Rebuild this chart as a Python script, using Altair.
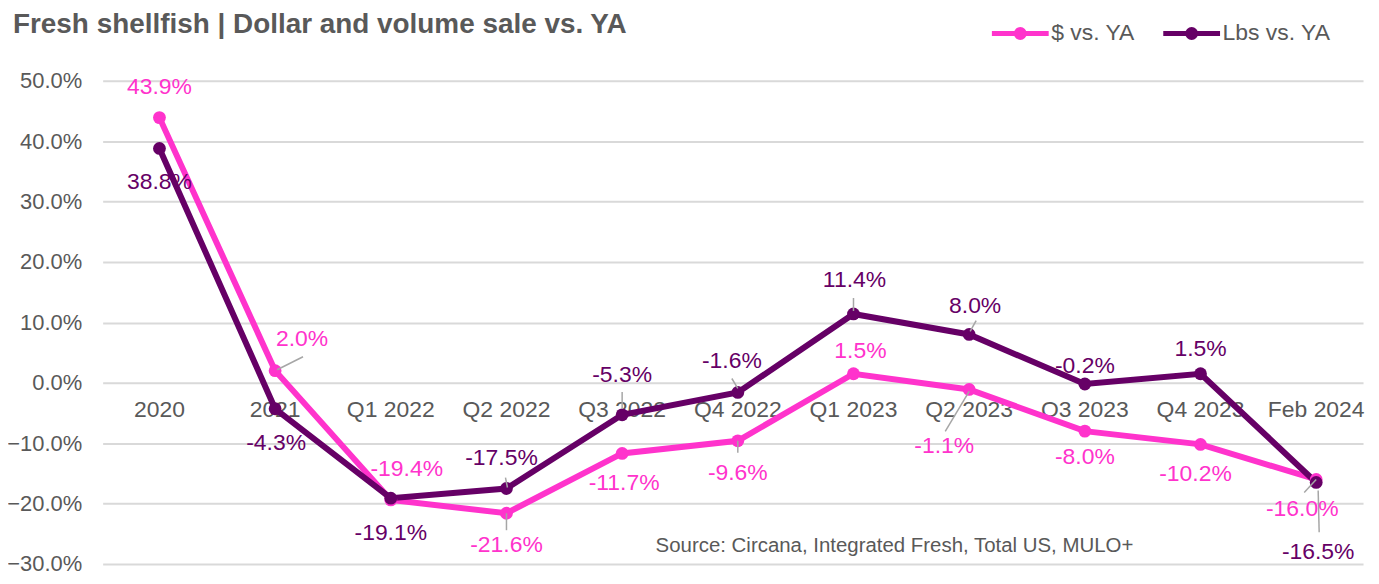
import altair as alt
import pandas as pd

# ---------------- data ----------------
categories = ["2020", "2021", "Q1 2022", "Q2 2022", "Q3 2022", "Q4 2022",
              "Q1 2023", "Q2 2023", "Q3 2023", "Q4 2023", "Feb 2024"]
series_names = ["$ vs. YA", "Lbs vs. YA"]
dollar_vs_ya = [43.9, 2.0, -19.4, -21.6, -11.7, -9.6, 1.5, -1.1, -8.0, -10.2, -16.0]
lbs_vs_ya = [38.8, -4.3, -19.1, -17.5, -5.3, -1.6, 11.4, 8.0, -0.2, 1.5, -16.5]
y_ticks = [-30, -20, -10, 0, 10, 20, 30, 40, 50]

TITLE = "Fresh shellfish | Dollar and volume sale vs. YA"
SOURCE = "Source: Circana, Integrated Fresh, Total US, MULO+"

# data-label placement (pixel offsets dx, dy from each point), like Excel's manual label positions
dollar_label_offset = [(0, -31), (27, -32), (16, -31), (0, 32), (2, 30), (0, 32),
                       (7, -23), (-25, 57), (0, 26), (-5, 30), (-14, 30)]
lbs_label_offset = [(0, 34), (1, 34), (0, 35), (-5, -31), (0, -40), (-6, -32),
                    (1, -34), (6, -29), (0, -18), (0, -25), (2, 70)]
# leader lines: (series, category index, x1, y1, x2, y2) pixel offsets from the point
leader_lines = [
    (0, 1, 2, -1, 28, -14),
    (0, 3, 0, 0, 0, 17),
    (0, 5, 0, 0, 0, 12),
    (0, 7, 0, 2, -24, 42),
    (0, 10, 0, 0, -12, 13),
    (1, 3, -1, -11, 1, -1),
    (1, 4, 0, -23, 0, -6),
    (1, 5, -6, -14, 0, -4),
    (1, 6, 0, -16, 0, -3),
    (1, 7, 1, -3, 7, -14),
    (1, 10, 2, 8, 3, 50),
]

# ---------------- geometry / style ----------------
W, H = 1265, 485
PAD_TOP = 72
PAD_BOTTOM = 11
TOP = 8 + PAD_TOP  # page y of the plot's top edge
X_DOMAIN = [-0.491, 10.405]
Y_DOMAIN = [-30, 50]
PX_X = W / (X_DOMAIN[1] - X_DOMAIN[0])
PX_Y = H / (Y_DOMAIN[1] - Y_DOMAIN[0])
FONT = "Liberation Sans"
GRAY = "#595959"
COLORS = ["#FF33CC", "#660066"]

values_by_series = [dollar_vs_ya, lbs_vs_ya]
offsets_by_series = [dollar_label_offset, lbs_label_offset]

rows = []
for s, name in enumerate(series_names):
    for i, cat in enumerate(categories):
        v = values_by_series[s][i]
        dx, dy = offsets_by_series[s][i]
        rows.append({
            "series": name, "category": cat, "idx": i, "value": v,
            "label": f"{v:.1f}%",
            "lx": i + dx / PX_X, "ly": v - dy / PX_Y,
        })
df = pd.DataFrame(rows)

lead_rows = []
for s, i, x1, y1, x2, y2 in leader_lines:
    v = values_by_series[s][i]
    lead_rows.append({"x1": i + x1 / PX_X, "y1": v - y1 / PX_Y,
                      "x2": i + x2 / PX_X, "y2": v - y2 / PX_Y})
lead_df = pd.DataFrame(lead_rows)

cat_df = pd.DataFrame({"idx": list(range(len(categories))), "category": categories,
                       "zero": [0] * len(categories)})

xscale = alt.Scale(domain=X_DOMAIN, nice=False, zero=False)
yscale = alt.Scale(domain=Y_DOMAIN, nice=False, zero=False)
cscale = alt.Scale(domain=series_names, range=COLORS)

yaxis = alt.Axis(values=y_ticks, labelExpr="format(datum.value, '.1f') + '%'",
                 grid=True, gridColor="#D9D9D9", gridWidth=2, domain=False, ticks=False,
                 labelFontSize=22, labelFont=FONT, labelColor=GRAY, labelPadding=21,
                 title=None)

LEGEND_PATH = ("M-1,0L1,0"
               "M-0.14,0A0.14,0.14,0,1,0,0.14,0A0.14,0.14,0,1,0,-0.14,0"
               "M-0.05,0A0.05,0.05,0,1,0,0.05,0A0.05,0.05,0,1,0,-0.05,0")
legend = alt.Legend(title=None, orient="none", legendX=890, legendY=1.5 - TOP,
                    direction="horizontal", symbolType=LEGEND_PATH, symbolSize=3249,
                    symbolStrokeWidth=5, labelFontSize=23, labelFont=FONT,
                    labelColor=GRAY, labelOffset=0, columnPadding=18, padding=0)

cat_layer = alt.Chart(cat_df).mark_text(
    dy=27, fontSize=23, font=FONT, color=GRAY, baseline="middle", align="center"
).encode(
    x=alt.X("idx:Q", scale=xscale, axis=None),
    y=alt.Y("zero:Q", scale=yscale, axis=yaxis),
    text="category:N",
)

lines = alt.Chart(df).mark_line(strokeWidth=6).encode(
    x=alt.X("idx:Q", scale=xscale, axis=None),
    y=alt.Y("value:Q", scale=yscale, axis=yaxis),
    color=alt.Color("series:N", scale=cscale, legend=legend),
    order="idx:Q",
)

points = alt.Chart(df).mark_circle(size=165, opacity=1).encode(
    x=alt.X("idx:Q", scale=xscale, axis=None),
    y=alt.Y("value:Q", scale=yscale, axis=yaxis),
    color=alt.Color("series:N", scale=cscale, legend=None),
)

leaders = alt.Chart(lead_df).mark_rule(color="#A6A6A6", strokeWidth=1.5).encode(
    x=alt.X("x1:Q", scale=xscale, axis=None),
    y=alt.Y("y1:Q", scale=yscale, axis=yaxis),
    x2="x2:Q",
    y2="y2:Q",
)

labels = alt.Chart(df).mark_text(fontSize=23, font=FONT, baseline="middle", align="center").encode(
    x=alt.X("lx:Q", scale=xscale, axis=None),
    y=alt.Y("ly:Q", scale=yscale, axis=yaxis),
    text="label:N",
    color=alt.Color("series:N", scale=cscale, legend=None),
)

title = alt.Chart(pd.DataFrame({"t": [TITLE]})).mark_text(
    align="left", baseline="alphabetic", fontSize=28, fontWeight="bold", font=FONT, color=GRAY
).encode(text="t:N", x=alt.value(-90), y=alt.value(32 - TOP))

source = alt.Chart(pd.DataFrame({"t": [SOURCE]})).mark_text(
    align="left", baseline="middle", fontSize=20.5, font=FONT, color=GRAY
).encode(text="t:N", x=alt.value(555), y=alt.value(547 - TOP))

chart = alt.layer(cat_layer, lines, points, leaders, labels, title, source).properties(
    width=W, height=H,
    autosize=alt.AutoSizeParams(type="none"),
    padding={"left": 95, "top": PAD_TOP, "right": 8, "bottom": PAD_BOTTOM},
).configure_view(stroke=None)

chart.save("out.html", embed_options={"renderer": "svg", "actions": False})
